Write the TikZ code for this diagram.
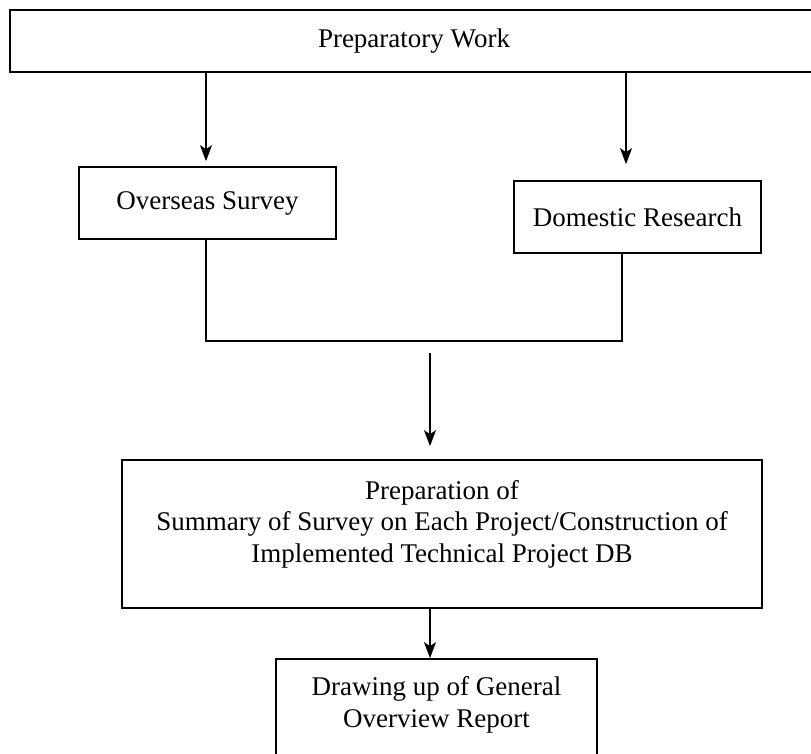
\documentclass[tikz,border=0pt]{standalone}
\usepackage{fontspec}
\setmainfont{Liberation Serif}
\usetikzlibrary{arrows.meta,calc}
\tikzset{
  box/.style={draw=black, line width=1.7pt, rectangle, inner sep=0pt, fill=white},
  txt/.style={font=\fontsize{27}{31.5}\selectfont, align=center, inner sep=0pt},
  arr/.style={line width=1.7pt, -{Stealth[length=16pt,width=12pt,inset=4pt]}},
  ln/.style={line width=1.7pt}
}
\begin{document}
\begin{tikzpicture}[x=1pt,y=-1pt]
\useasboundingbox (0,0) rectangle (811,754);
\clip (0,0) rectangle (811,754);
\fill[white] (0,0) rectangle (811,754);
% boxes
\node[box, minimum width=820pt, minimum height=62pt] (top) at (420,41) {};
\node[txt] (toptxt) at (414,41) {Preparatory Work};
\node[box, txt, minimum width=257pt, minimum height=72pt] (os) at (207.5,203) {Overseas Survey};
\node[box, txt, minimum width=247pt, minimum height=72pt] (dr) at (637.5,217) {Domestic Research};
\node[box, minimum width=640pt, minimum height=148pt] (big) at (442,534) {};
\node[txt] (bigtxt) at (442,524) {Preparation of\\Summary of Survey on Each Project/Construction of\\Implemented Technical Project DB};
\node[box, minimum width=321pt, minimum height=122pt] (rep) at (436.5,720) {};
\node[txt] (reptxt) at (436.5,705) {Drawing up of General\\Overview Report};
% coordinates
\coordinate (xa) at (206,0);
\coordinate (xb) at (626,0);
\coordinate (xc) at (622,0);
\coordinate (join) at (430,353);
\coordinate (xm) at (430,0);
% connectors
\draw[arr, shorten >=5pt] (top.south -| xa) -- (os.north -| xa);
\draw[arr, shorten >=16pt] (top.south -| xb) -- (dr.north -| xb);
\draw[ln] (os.south -| xa) -- (206,341) -- (622,341) -- (dr.south -| xc);
\draw[arr, shorten >=13pt] (join) -- (big.north -| xm);
\draw[arr] (big.south -| xm) -- (rep.north -| xm);
\end{tikzpicture}
\end{document}
